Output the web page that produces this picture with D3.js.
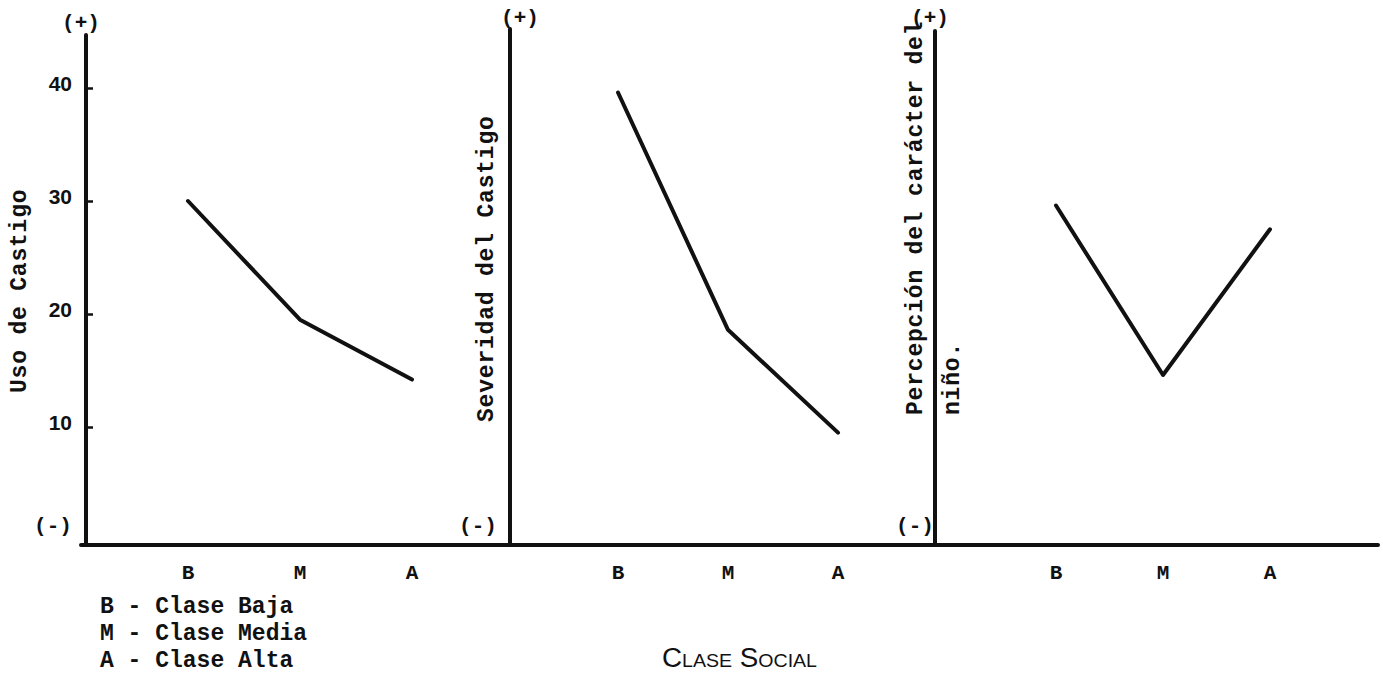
<!DOCTYPE html>
<html>
<head>
<meta charset="utf-8">
<script src="https://cdn.jsdelivr.net/npm/d3@7"></script>
<style>
  html, body { margin: 0; padding: 0; background: #ffffff; }
  svg { display: block; }
  .mono { font-family: "Liberation Mono", "Courier New", monospace; font-weight: bold; fill: #111; }
</style>
</head>
<body>
<svg id="chart" width="1383" height="673"></svg>
<script>
// ---------- data ----------
const categories = ["B", "M", "A"];
const usoCastigo = [30, 19.5, 14.2];
const severidadCastigo = [39.6, 18.6, 9.5];
const percepcionCaracter = [29.6, 14.6, 27.5];
const yTicks = [10, 20, 30, 40];
const panelTitles = [
  ["Uso de Castigo"],
  ["Severidad del Castigo"],
  ["Percepción del carácter del", "niño."]
];
const legendLines = ["B - Clase Baja", "M - Clase Media", "A - Clase Alta"];
const xTitle = "Clase Social";

// ---------- layout ----------
const svg = d3.select("#chart");
const baseY = 545;
const y = d3.scaleLinear().domain([10, 40]).range([427, 88]);

const panels = [
  { values: usoCastigo, axisX: 86, topY: 35, xRange: [188, 412], ticks: true,
    titleX: [26], titleY: 393, plusX: 81, plusY: 29, minusX: 53 },
  { values: severidadCastigo, axisX: 510, topY: 29, xRange: [618, 838], ticks: false,
    titleX: [493], titleY: 422, plusX: 520, plusY: 24, minusX: 478 },
  { values: percepcionCaracter, axisX: 935, topY: 31, xRange: [1056, 1270], ticks: false,
    titleX: [922, 959], titleY: 415, plusX: 930, plusY: 24, minusX: 915 }
];

// horizontal baseline spanning all panels
svg.append("line")
  .attr("x1", 81).attr("x2", 1378)
  .attr("y1", baseY).attr("y2", baseY)
  .attr("stroke", "#111").attr("stroke-width", 4).attr("stroke-linecap", "round");

panels.forEach((p, i) => {
  const g = svg.append("g");
  const x = d3.scalePoint().domain(categories).range(p.xRange);

  // vertical axis
  g.append("line")
    .attr("x1", p.axisX).attr("x2", p.axisX)
    .attr("y1", p.topY).attr("y2", baseY)
    .attr("stroke", "#111").attr("stroke-width", 4).attr("stroke-linecap", "round");

  if (p.ticks) {
    const ax = g.append("g")
      .attr("transform", `translate(${p.axisX},0)`)
      .call(d3.axisLeft(y).tickValues(yTicks).tickSizeInner(-7).tickSizeOuter(0).tickPadding(14));
    ax.select(".domain").remove();
    ax.selectAll(".tick line").attr("stroke", "#111").attr("stroke-width", 2.5);
    ax.selectAll(".tick text")
      .attr("fill", "#111")
      .attr("dy", "0.1em")
      .style("font-family", "'Liberation Sans', Arial, sans-serif")
      .style("font-weight", "bold")
      .style("font-size", "21px");
  }

  // (+) and (-)
  g.append("text").attr("class", "mono")
    .attr("x", p.plusX).attr("y", p.plusY)
    .attr("text-anchor", "middle").style("font-size", "21px").text("(+)");
  g.append("text").attr("class", "mono")
    .attr("x", p.minusX).attr("y", 532)
    .attr("text-anchor", "middle").style("font-size", "21px").text("(-)");

  // y-axis title (rotated)
  panelTitles[i].forEach((t, j) => {
    g.append("text").attr("class", "mono")
      .attr("transform", `translate(${p.titleX[j]},${p.titleY}) rotate(-90)`)
      .attr("text-anchor", "start")
      .style("font-size", "23px")
      .style("letter-spacing", "0.8px")
      .text(t);
  });

  // category labels
  g.selectAll("text.cat").data(categories).enter().append("text")
    .attr("class", "mono cat")
    .attr("x", d => x(d)).attr("y", 579)
    .attr("text-anchor", "middle")
    .style("font-size", "21px")
    .text(d => d);

  // data line
  const line = d3.line().x((d, k) => x(categories[k])).y(d => y(d));
  g.append("path")
    .datum(p.values)
    .attr("d", line)
    .attr("fill", "none")
    .attr("stroke", "#111")
    .attr("stroke-width", 4)
    .attr("stroke-linecap", "round")
    .attr("stroke-linejoin", "round");
});

// legend
svg.selectAll("text.legend").data(legendLines).enter().append("text")
  .attr("class", "mono legend")
  .attr("x", 100).attr("y", (d, i) => 613 + i * 27)
  .style("font-size", "23px")
  .text(d => d);

// x title
svg.append("text")
  .attr("x", 662).attr("y", 667)
  .attr("textLength", 155).attr("lengthAdjust", "spacingAndGlyphs")
  .style("font-family", "'Liberation Sans', Arial, sans-serif")
  .style("font-size", "27px")
  .style("font-variant", "small-caps")
  .attr("fill", "#111")
  .text(xTitle);
</script>
</body>
</html>
